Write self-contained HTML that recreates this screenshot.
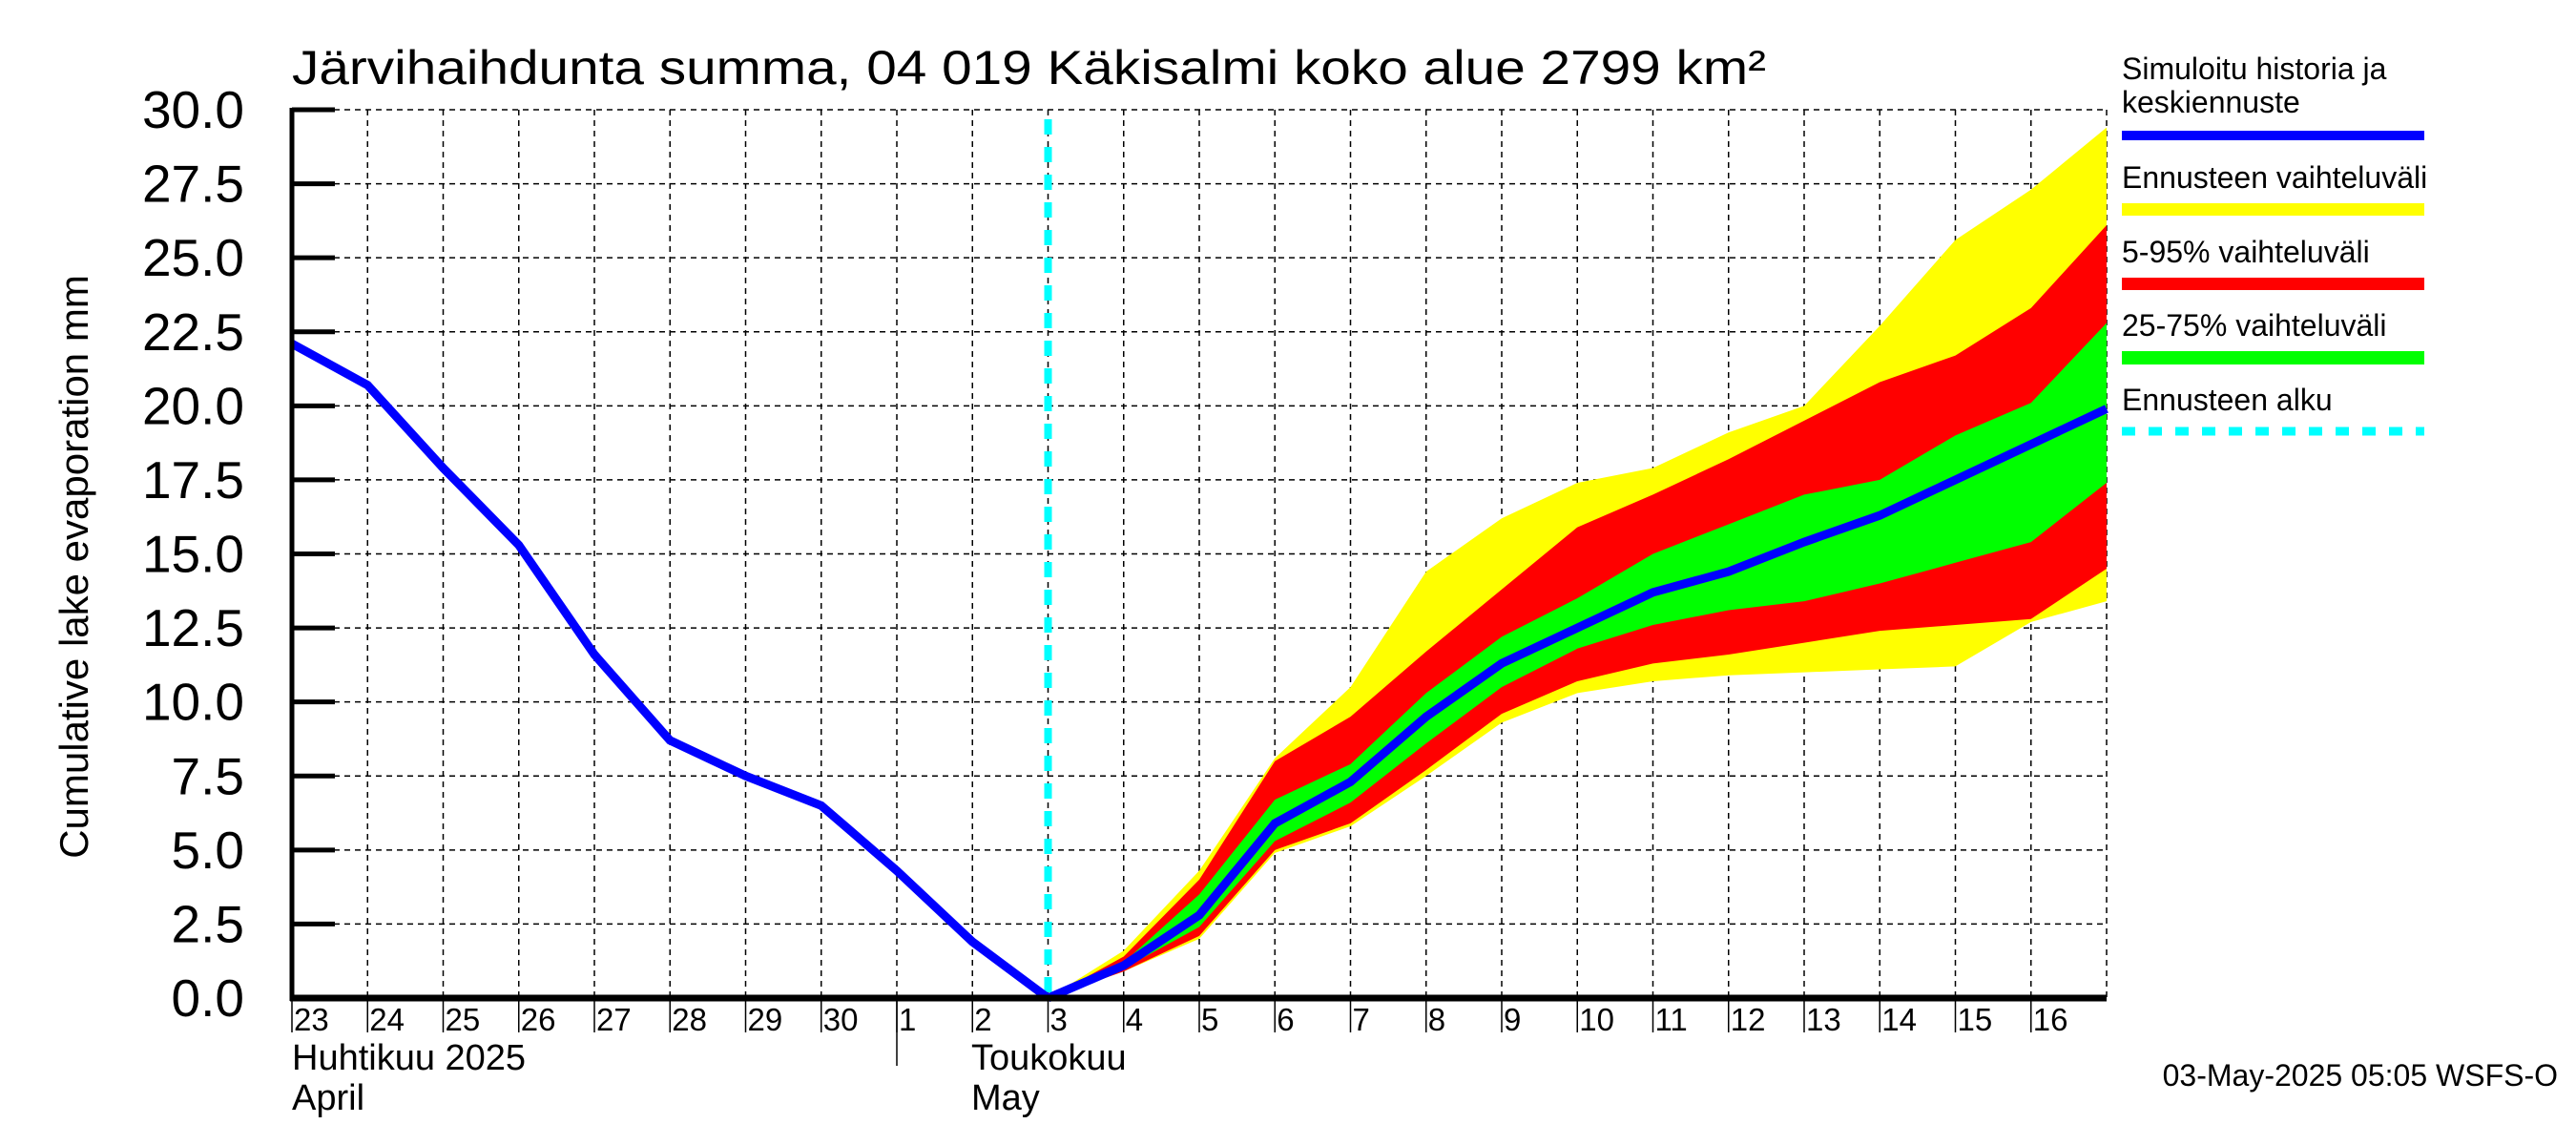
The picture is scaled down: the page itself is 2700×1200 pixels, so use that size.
<!DOCTYPE html>
<html><head><meta charset="utf-8"><style>html,body{margin:0;padding:0;background:#fff}svg{display:block}text{font-family:"Liberation Sans",sans-serif;fill:#000}</style></head>
<body>
<svg id="chart" width="2700" height="1200" viewBox="0 0 2700 1200" xmlns="http://www.w3.org/2000/svg">
<text x="306" y="88" font-size="50" textLength="1545" lengthAdjust="spacingAndGlyphs">Järvihaihdunta summa, 04 019 Käkisalmi koko alue 2799 km²</text>
<text transform="translate(92,594) rotate(-90)" text-anchor="middle" font-size="42">Cumulative lake evaporation   mm</text>
<g id="grid"></g>
<g id="bands"></g>
<g id="lines"></g>
<g id="axes"></g>
<g>
<text x="2224" y="83" font-size="32">Simuloitu historia ja</text>
<text x="2224" y="118" font-size="32">keskiennuste</text>
<rect x="2224" y="137" width="317" height="10" fill="#0000ff"/>
<text x="2224" y="197" font-size="32">Ennusteen vaihteluväli</text>
<rect x="2224" y="213" width="317" height="13" fill="#ffff00"/>
<text x="2224" y="275" font-size="32">5-95% vaihteluväli</text>
<rect x="2224" y="291" width="317" height="13" fill="#ff0000"/>
<text x="2224" y="352" font-size="32">25-75% vaihteluväli</text>
<rect x="2224" y="368" width="317" height="14" fill="#00ff00"/>
<text x="2224" y="430" font-size="32">Ennusteen alku</text>
<line x1="2224" y1="452" x2="2541" y2="452" stroke="#00ffff" stroke-width="9" stroke-dasharray="14 14"/>
</g>
<text x="306" y="1121" font-size="38">Huhtikuu  2025</text>
<text x="306" y="1163" font-size="38">April</text>
<text x="1018" y="1121" font-size="38">Toukokuu</text>
<text x="1018" y="1163" font-size="38">May</text>
<text x="2681" y="1138" font-size="32" text-anchor="end">03-May-2025 05:05 WSFS-O</text>
</svg>
<script>
const dayLabels=["23","24","25","26","27","28","29","30","1","2","3","4","5","6","7","8","9","10","11","12","13","14","15","16"];
const yTicks=[0,2.5,5,7.5,10,12.5,15,17.5,20,22.5,25,27.5,30];
const historyDays=[0,1,2,3,4,5,6,7,8,9,10];
const historyValues=[22.1,20.7,17.9,15.3,11.6,8.7,7.5,6.5,4.3,1.9,0];
const forecastDays=[10,11,12,13,14,15,16,17,18,19,20,21,22,23,24];
const medianValues=[0,1.1,2.8,5.9,7.3,9.5,11.3,12.5,13.7,14.4,15.4,16.3,17.5,18.7,19.9];
const rangeMax=[0,1.6,4.3,8.1,10.5,14.4,16.2,17.4,17.9,19.1,20.0,22.7,25.6,27.3,29.4];
const rangeMin=[0,0.9,2.0,4.9,5.8,7.5,9.3,10.3,10.7,10.9,11.0,11.1,11.2,12.7,13.4];
const p95=[0,1.4,4.0,8.0,9.5,11.7,13.8,15.9,17.0,18.2,19.5,20.8,21.7,23.3,26.1];
const p5=[0,0.9,2.1,5.0,5.9,7.7,9.6,10.7,11.3,11.6,12.0,12.4,12.6,12.8,14.5];
const p75=[0,1.2,3.5,6.7,7.9,10.3,12.2,13.5,15.0,16.0,17.0,17.5,19.0,20.1,22.8];
const p25=[0,1.0,2.4,5.3,6.6,8.6,10.5,11.8,12.6,13.1,13.4,14.0,14.7,15.4,17.4];
const forecastStartDay=10;
const monthBoundaryDay=8;

const NS="http://www.w3.org/2000/svg";
const X0=306,X1=2208,Y0=1046,Y1=115,DMAX=24,VMAX=30;
function xs(d){return X0+(X1-X0)*d/DMAX;}
function ys(v){return Y0-(Y0-Y1)*v/VMAX;}
function mk(tag,attrs,parent){const e=document.createElementNS(NS,tag);for(const k in attrs)e.setAttribute(k,attrs[k]);parent.appendChild(e);return e;}
const grid=document.getElementById('grid'),bands=document.getElementById('bands'),lines=document.getElementById('lines'),axes=document.getElementById('axes');

for(let i=1;i<=DMAX;i++){
  const l=mk('line',{x1:xs(i),x2:xs(i),y1:Y1,y2:Y0,stroke:'#000','stroke-width':1.5,'stroke-dasharray':'6 5'},grid);
  
  
}
yTicks.forEach(v=>{
  if(v===0)return;
  const l=mk('line',{x1:X0,x2:X1,y1:ys(v),y2:ys(v),stroke:'#000','stroke-width':1.5,'stroke-dasharray':'6 5'},grid);
  
  
});

function band(hi,lo,color,name){
  let pts=forecastDays.map((d,i)=>xs(d)+','+ys(hi[i]));
  for(let i=forecastDays.length-1;i>=0;i--)pts.push(xs(forecastDays[i])+','+ys(lo[i]));
  const p=mk('polygon',{points:pts.join(' '),fill:color},bands);
  
  
}
band(rangeMax,rangeMin,'#ffff00','band-full-range');
band(p95,p5,'#ff0000','band-5-95');
band(p75,p25,'#00ff00','band-25-75');

const cy=mk('line',{x1:xs(forecastStartDay),x2:xs(forecastStartDay),y1:Y1+10,y2:Y0,stroke:'#00ffff','stroke-width':8,'stroke-dasharray':'16 13'},lines);



const hist=mk('polyline',{points:historyDays.map((d,i)=>xs(d)+','+ys(historyValues[i])).join(' '),fill:'none',stroke:'#0000ff','stroke-width':9,'stroke-linejoin':'miter'},lines);


const med=mk('polyline',{points:forecastDays.map((d,i)=>xs(d)+','+ys(medianValues[i])).join(' '),fill:'none',stroke:'#0000ff','stroke-width':9},lines);



const ya=mk('line',{x1:X0,x2:X0,y1:Y1-2,y2:Y0+3,stroke:'#000','stroke-width':5},axes);


const xa=mk('line',{x1:X0-2,x2:X1,y1:Y0,y2:Y0,stroke:'#000','stroke-width':7},axes);


yTicks.forEach(v=>{
  const t=mk('line',{x1:X0,x2:X0+45,y1:ys(v),y2:ys(v),stroke:'#000','stroke-width':5},axes);
  
  
  const tx=mk('text',{x:256,y:ys(v)+19,'font-size':55,'text-anchor':'end'},axes);
  tx.textContent=v.toFixed(1);
  
  
});
dayLabels.forEach((lab,i)=>{
  const t=mk('line',{x1:xs(i),x2:xs(i),y1:Y0,y2:1082,stroke:'#000','stroke-width':1.5},axes);
  
  
  const tx=mk('text',{x:xs(i)+2,y:1080,'font-size':33},axes);
  tx.textContent=lab;
  
  
});
const mb=mk('line',{x1:xs(monthBoundaryDay),x2:xs(monthBoundaryDay),y1:Y0,y2:1117,stroke:'#000','stroke-width':1.5},axes);


</script>
</body></html>
